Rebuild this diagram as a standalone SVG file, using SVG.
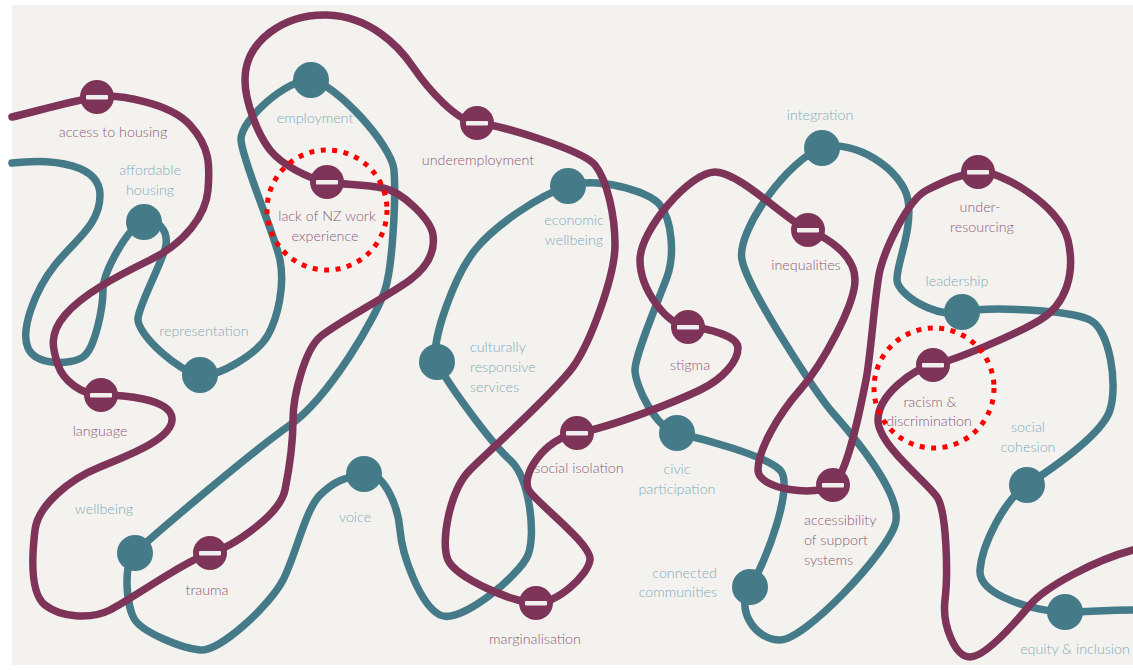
<svg xmlns="http://www.w3.org/2000/svg" width="1133" height="670" viewBox="0 0 1133 670">
<defs>
<style>
.bg{fill:#f3f2ef}
.rope{fill:none;stroke-width:7.5;stroke-linecap:round;stroke-linejoin:round}
.m{stroke:#7e3358}
.t{stroke:#457b88}
.nm{fill:#7e3358}
.nt{fill:#457b88}
.bar{fill:#f1eeee}
text{font-family:Lato,"Open Sans","Liberation Sans",sans-serif;font-weight:300;font-size:14.3px;text-anchor:middle}
.lm{fill:#8f5a78}
.lt{fill:#84abb9}
.ring{fill:none;stroke:#ff0000;stroke-width:5;stroke-dasharray:5 6.5}
</style>
</defs>
<rect x="0" y="0" width="1133" height="670" fill="#ffffff"/>
<rect class="bg" x="12" y="5" width="1121" height="660"/>
<g id="connectors">
<path class="rope t" d="M12,163 C55,158 100,165 100,195 S75,240 55,265 S20,330 28,348 S71,365 83,357 S103,308 103,290 S128,227 143,222 S168,231 166,245 S140,302 138,318 S180,373 200,375 S258,353 268,335 S285,285 280,260 S242,160 241,140 S288,78 311,80 S392,145 394,170 S393,265 385,290 S330,397 290,425 S148,540 135,553 S127,608 135,620 S180,648 200,650 S270,605 283,580 S305,510 320,495 S345,478 364,474 S398,505 400,530 S420,605 440,615 S520,575 528,555 S530,478 510,460 S445,380 437,362 S455,275 475,250 S540,195 568,186 S648,190 660,205 S675,255 667,277 S635,355 635,370 S655,428 677,433 S765,455 780,470 S765,565 750,587 S755,640 780,640 S885,555 895,525 S848,430 833,413 S748,290 742,260 S790,158 822,148 S903,170 908,200 S896,265 897,280 S935,318 962,312 S1070,310 1090,320 S1118,385 1110,410 S1050,470 1027,485 S982,545 980,570 S1035,612 1065,612 S1100,610 1133,610"/>
<path class="rope m" d="M12,117 C30,113 75,100 97,97 S170,103 190,125 S210,165 208,190 S185,243 150,260 S82,295 65,315 S53,350 58,365 S81,395 101,395 S170,398 172,418 S130,455 100,467 S38,505 35,530 S30,593 45,605 S90,620 110,610 S188,559 210,553 S280,515 285,490 S293,445 293,420 S305,350 320,337 S390,295 410,280 S435,250 433,235 S403,192 383,188 S345,185 327,182 S282,165 270,150 S245,102 245,80 C245,40 285,14 327,15 S398,45 413,67 S457,122 477,123 S583,150 595,165 S615,215 615,245 S591,342 573,367 S490,450 470,470 S440,542 448,560 S514,603 536,603 S588,575 590,560 S542,507 530,492 S545,438 577,433 S675,402 700,390 S738,360 738,348 S708,328 688,327 S640,290 640,260 S690,172 715,172 S788,222 808,230 S855,255 855,280 S822,365 800,390 S758,450 758,470 S818,497 833,485 S861,405 866,380 S875,290 880,270 S907,200 927,190 S958,175 978,172 S1060,205 1068,240 S1065,305 1040,320 S953,361 933,365 S878,395 878,420 S927,482 937,497 S948,575 945,600 S955,657 970,657 S1015,623 1030,605 S1095,560 1133,550"/>
</g>
<g id="access-to-housing"><circle class="nm" cx="97" cy="97" r="17"/><rect class="bar" x="86" y="95" width="22" height="4.5" rx="1"/><text class="lm" x="113" y="137">access to housing</text></g>
<g id="affordable-housing"><circle class="nt" cx="144" cy="222" r="18"/><text class="lt" x="150" y="175">affordable</text><text class="lt" x="150" y="195">housing</text></g>
<g id="employment"><circle class="nt" cx="311" cy="80" r="18"/><text class="lt" x="315" y="123">employment</text></g>
<g id="lack-of-nz-work-experience"><circle class="nm" cx="327" cy="182" r="17"/><rect class="bar" x="316" y="180" width="22" height="4.5" rx="1"/><text class="lm" x="327" y="221">lack of NZ work</text><text class="lm" x="325" y="241">experience</text><circle class="ring" cx="327" cy="210" r="60"/></g>
<g id="underemployment"><circle class="nm" cx="477" cy="123" r="17"/><rect class="bar" x="466" y="121" width="22" height="4.5" rx="1"/><text class="lm" x="478" y="165">underemployment</text></g>
<g id="economic-wellbeing"><circle class="nt" cx="568" cy="186" r="18"/><text class="lt" x="574" y="225">economic</text><text class="lt" x="574" y="245">wellbeing</text></g>
<g id="integration"><circle class="nt" cx="822" cy="148" r="18"/><text class="lt" x="820" y="120">integration</text></g>
<g id="inequalities"><circle class="nm" cx="808" cy="230" r="17"/><rect class="bar" x="797" y="228" width="22" height="4.5" rx="1"/><text class="lm" x="806" y="270">inequalities</text></g>
<g id="under-resourcing"><circle class="nm" cx="978" cy="172" r="17"/><rect class="bar" x="967" y="170" width="22" height="4.5" rx="1"/><text class="lm" x="980" y="212">under-</text><text class="lm" x="982" y="232">resourcing</text></g>
<g id="leadership"><circle class="nt" cx="962" cy="312" r="18"/><text class="lt" x="957" y="286">leadership</text></g>
<g id="representation"><circle class="nt" cx="200" cy="375" r="18"/><text class="lt" x="204" y="336">representation</text></g>
<g id="culturally-responsive-services"><circle class="nt" cx="437" cy="362" r="18"/><text class="lt" x="470" y="352" style="text-anchor:start">culturally</text><text class="lt" x="470" y="372" style="text-anchor:start">responsive</text><text class="lt" x="470" y="392" style="text-anchor:start">services</text></g>
<g id="stigma"><circle class="nm" cx="688" cy="327" r="17"/><rect class="bar" x="677" y="325" width="22" height="4.5" rx="1"/><text class="lm" x="690" y="370">stigma</text></g>
<g id="racism-discrimination"><circle class="nm" cx="933" cy="365" r="17"/><rect class="bar" x="922" y="363" width="22" height="4.5" rx="1"/><text class="lm" x="930" y="407">racism &amp;</text><text class="lm" x="929" y="426">discrimination</text><circle class="ring" cx="934" cy="388" r="60"/></g>
<g id="social-cohesion"><circle class="nt" cx="1027" cy="485" r="18"/><text class="lt" x="1028" y="432">social</text><text class="lt" x="1028" y="452">cohesion</text></g>
<g id="language"><circle class="nm" cx="101" cy="395" r="17"/><rect class="bar" x="90" y="393" width="22" height="4.5" rx="1"/><text class="lm" x="100" y="436">language</text></g>
<g id="social-isolation"><circle class="nm" cx="577" cy="433" r="17"/><rect class="bar" x="566" y="431" width="22" height="4.5" rx="1"/><text class="lm" x="579" y="473">social isolation</text></g>
<g id="civic-participation"><circle class="nt" cx="677" cy="433" r="18"/><text class="lt" x="677" y="474">civic</text><text class="lt" x="677" y="494">participation</text></g>
<g id="wellbeing"><circle class="nt" cx="135" cy="553" r="18"/><text class="lt" x="104" y="514">wellbeing</text></g>
<g id="voice"><circle class="nt" cx="364" cy="474" r="18"/><text class="lt" x="355" y="522">voice</text></g>
<g id="accessibility-of-support-systems"><circle class="nm" cx="833" cy="485" r="17"/><rect class="bar" x="822" y="483" width="22" height="4.5" rx="1"/><text class="lm" x="804" y="525" style="text-anchor:start">accessibility</text><text class="lm" x="804" y="545" style="text-anchor:start">of support</text><text class="lm" x="804" y="565" style="text-anchor:start">systems</text></g>
<g id="connected-communities"><circle class="nt" cx="750" cy="587" r="18"/><text class="lt" x="717" y="578" style="text-anchor:end">connected</text><text class="lt" x="717" y="597" style="text-anchor:end">communities</text></g>
<g id="trauma"><circle class="nm" cx="210" cy="553" r="17"/><rect class="bar" x="199" y="551" width="22" height="4.5" rx="1"/><text class="lm" x="207" y="595">trauma</text></g>
<g id="marginalisation"><circle class="nm" cx="536" cy="603" r="17"/><rect class="bar" x="525" y="601" width="22" height="4.5" rx="1"/><text class="lm" x="535" y="644">marginalisation</text></g>
<g id="equity-inclusion"><circle class="nt" cx="1065" cy="612" r="18"/><text class="lt" x="1075" y="654">equity &amp; inclusion</text></g>
</svg>
